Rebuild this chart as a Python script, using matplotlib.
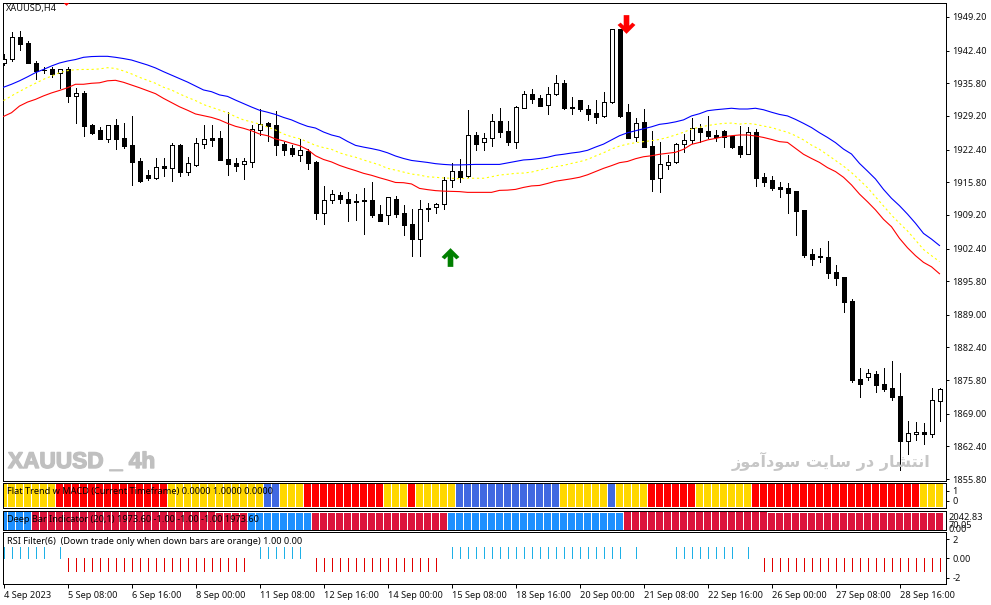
import matplotlib
matplotlib.use('Agg')
import matplotlib.pyplot as plt
import matplotlib.patheffects as pe
from matplotlib.path import Path

W, H = 991, 605
FONT = 'Noto Sans'
FS = 6.6
PX = 0.72  # one pixel in points at dpi 100

time_labels = ['4 Sep 2023', '5 Sep 08:00', '6 Sep 16:00', '8 Sep 00:00', '11 Sep 08:00',
               '12 Sep 16:00', '14 Sep 00:00', '15 Sep 08:00', '18 Sep 16:00', '20 Sep 00:00',
               '21 Sep 08:00', '22 Sep 16:00', '26 Sep 00:00', '27 Sep 08:00', '28 Sep 16:00']
price_ticks = [1949.2, 1942.4, 1935.8, 1929.2, 1922.4, 1915.8, 1909.2, 1902.4,
               1895.8, 1889.0, 1882.4, 1875.8, 1869.0, 1862.4, 1855.8]

opens = [1940.0, 1940.7, 1945.1, 1943.9, 1939.8, 1938.55, 1938.6, 1937.8, 1938.6, 1933.3,
         1933.8, 1927.3, 1926.3, 1924.6, 1927.3, 1924.7, 1923.25, 1920.0, 1917.2, 1916.7,
         1919.1, 1918.7, 1923.3, 1917.9, 1919.3, 1923.6, 1924.7, 1924.7, 1920.4, 1919.7,
         1919.55, 1919.95, 1926.4, 1927.7, 1927.3, 1923.45, 1922.65, 1921.35, 1922.2, 1919.9,
         1909.65, 1912.3, 1913.2, 1912.5, 1911.7, 1912.3, 1912.3, 1909.3, 1909.1, 1912.5,
         1909.5, 1907.3, 1904.4, 1910.5, 1910.7, 1911.3, 1916.2, 1918.0, 1917.1, 1925.3,
         1923.85, 1924.7, 1928.1, 1926.1, 1924.0, 1930.9, 1933.55, 1932.75, 1931.35, 1933.7,
         1935.8, 1931.1, 1932.35, 1930.7, 1929.7, 1929.1, 1932.1, 1946.7, 1929.9, 1924.85,
         1927.9, 1923.1, 1916.6, 1919.35, 1919.8, 1923.45, 1924.25, 1926.7, 1926.1, 1925.35,
         1926.1, 1925.05, 1923.1, 1921.6, 1925.9, 1916.8, 1916.2, 1914.85, 1914.55, 1913.95,
         1910.1, 1901.2, 1900.9, 1900.6, 1897.6, 1896.6, 1891.8, 1876.0, 1876.5, 1876.95,
         1875.0, 1874.1, 1872.5, 1863.45, 1864.95, 1865.4, 1865.0, 1871.6]
closes = [1940.8, 1945.1, 1943.8, 1939.9, 1938.35, 1938.4, 1937.7, 1938.6, 1933.3, 1933.8,
          1927.2, 1925.8, 1924.6, 1927.3, 1924.6, 1923.2, 1919.95, 1916.1, 1916.7, 1918.9,
          1918.7, 1923.25, 1917.9, 1919.6, 1923.7, 1924.5, 1924.4, 1920.35, 1919.55, 1919.0,
          1920.0, 1926.55, 1927.6, 1927.2, 1923.4, 1922.3, 1921.55, 1922.25, 1919.75, 1909.65,
          1912.3, 1913.4, 1912.4, 1911.65, 1912.1, 1912.05, 1909.2, 1908.0, 1912.75, 1909.4,
          1907.2, 1904.4, 1910.3, 1910.3, 1911.3, 1916.2, 1918.0, 1916.9, 1925.3, 1923.6,
          1924.7, 1928.1, 1926.0, 1924.0, 1931.1, 1933.55, 1932.7, 1931.3, 1933.7, 1935.8,
          1930.85, 1930.85, 1930.65, 1929.65, 1929.05, 1932.1, 1946.7, 1929.25, 1924.8, 1927.85,
          1923.0, 1916.4, 1919.4, 1919.8, 1923.45, 1924.25, 1926.7, 1926.0, 1925.2, 1924.95,
          1924.95, 1922.9, 1921.55, 1925.9, 1916.7, 1915.9, 1914.6, 1914.5, 1913.7, 1910.05,
          1901.15, 1900.35, 1900.6, 1897.5, 1896.5, 1891.65, 1875.8, 1875.05, 1877.15, 1874.85,
          1874.0, 1872.35, 1863.45, 1865.2, 1865.4, 1864.95, 1871.7, 1873.9]
highs = [1941.7, 1946.1, 1946.4, 1944.3, 1940.3, 1939.0, 1939.0, 1938.7, 1939.0, 1934.8,
         1934.2, 1927.6, 1926.9, 1927.3, 1928.6, 1927.8, 1929.2, 1920.6, 1918.3, 1920.7,
         1920.7, 1923.7, 1923.5, 1920.9, 1924.7, 1927.4, 1927.4, 1926.15, 1929.9, 1920.7,
         1920.7, 1927.4, 1930.7, 1928.0, 1930.1, 1924.0, 1923.25, 1924.5, 1922.45, 1920.0,
         1915.05, 1914.2, 1913.9, 1913.8, 1913.35, 1914.6, 1915.85, 1911.2, 1912.9, 1913.0,
         1911.2, 1910.3, 1912.2, 1911.5, 1911.65, 1916.8, 1919.6, 1920.4, 1930.4, 1925.9,
         1925.8, 1929.5, 1930.8, 1928.2, 1931.2, 1934.2, 1934.65, 1933.4, 1935.0, 1937.5,
         1936.45, 1932.95, 1932.4, 1931.4, 1932.4, 1934.0, 1946.8, 1946.8, 1931.6, 1928.7,
         1930.5, 1926.15, 1923.85, 1921.3, 1923.7, 1925.55, 1928.7, 1927.6, 1929.2, 1926.35,
         1926.35, 1925.15, 1927.15, 1926.9, 1926.5, 1917.6, 1917.05, 1915.8, 1915.6, 1914.0,
         1910.2, 1902.2, 1902.45, 1903.9, 1899.05, 1896.6, 1892.1, 1878.25, 1878.0, 1877.55,
         1878.25, 1879.65, 1877.15, 1867.5, 1867.3, 1867.1, 1874.1, 1874.1]
lows = [1939.4, 1940.4, 1942.5, 1939.8, 1936.7, 1937.95, 1937.1, 1934.85, 1932.1, 1927.8,
        1925.2, 1925.5, 1924.5, 1924.0, 1922.6, 1922.8, 1915.3, 1915.9, 1916.2, 1916.5,
        1917.05, 1916.1, 1917.05, 1917.3, 1919.1, 1922.7, 1923.2, 1920.3, 1917.3, 1918.05,
        1916.45, 1918.9, 1925.3, 1924.2, 1921.3, 1921.3, 1921.15, 1920.0, 1918.45, 1908.35,
        1907.4, 1911.65, 1911.65, 1907.95, 1908.15, 1905.3, 1908.7, 1907.95, 1907.4, 1908.8,
        1905.2, 1900.9, 1900.9, 1908.0, 1909.65, 1910.4, 1914.9, 1915.9, 1916.9, 1922.3,
        1922.3, 1923.2, 1925.0, 1923.3, 1922.8, 1930.85, 1931.75, 1931.2, 1929.6, 1933.4,
        1930.65, 1929.65, 1930.25, 1928.4, 1927.85, 1929.05, 1931.9, 1929.05, 1924.7, 1924.2,
        1922.85, 1914.1, 1913.9, 1918.55, 1919.6, 1922.0, 1923.7, 1923.85, 1924.8, 1924.2,
        1923.0, 1922.65, 1920.85, 1921.5, 1915.1, 1915.1, 1914.2, 1912.9, 1909.65, 1905.2,
        1900.75, 1899.15, 1899.75, 1896.5, 1895.1, 1889.6, 1875.45, 1872.45, 1875.8, 1873.45,
        1873.65, 1871.75, 1857.6, 1860.85, 1863.65, 1862.85, 1864.3, 1867.5]

ma_blue = [1935.0, 1935.6, 1936.3, 1937.1, 1937.95, 1938.6, 1939.3, 1939.9, 1940.3, 1940.6,
           1941.05, 1941.2, 1941.25, 1941.25, 1941.05, 1940.8, 1940.5, 1940.0, 1939.5, 1938.9,
           1938.15, 1937.45, 1936.75, 1936.05, 1935.25, 1934.45, 1934.1, 1933.45, 1933.15, 1932.4,
           1931.7, 1931.0, 1930.35, 1929.95, 1929.5, 1928.9, 1928.4, 1927.7, 1927.1, 1926.75,
           1925.95, 1925.35, 1924.95, 1924.05, 1923.25, 1922.9, 1922.6, 1922.25, 1921.75, 1921.1,
           1920.6, 1920.2, 1920.0, 1919.8, 1919.55, 1919.4, 1919.3, 1919.3, 1919.35, 1919.4,
           1919.4, 1919.4, 1919.4, 1919.7, 1920.0, 1920.3, 1920.4, 1920.6, 1920.85, 1921.25,
           1921.45, 1921.7, 1921.9, 1922.25, 1922.9, 1923.5, 1924.35, 1925.2, 1925.8, 1926.2,
           1926.6, 1927.0, 1927.5, 1927.7, 1928.0, 1928.4, 1929.2, 1929.65, 1930.25, 1930.45,
           1930.6, 1930.75, 1930.6, 1930.6, 1930.75, 1930.45, 1929.95, 1929.5, 1929.2, 1928.5,
           1927.7, 1926.85, 1925.8, 1924.85, 1923.8, 1922.5, 1921.5, 1919.6, 1918.05, 1916.45,
           1914.35, 1912.55, 1911.05, 1909.35, 1907.5, 1905.45, 1904.3, 1903.0]
ma_yellow = [1932.3, 1933.25, 1934.15, 1935.0, 1935.8, 1936.6, 1937.25, 1937.95, 1938.35, 1938.55,
             1938.6, 1938.6, 1938.7, 1938.95, 1938.8, 1938.3, 1937.7, 1937.0, 1936.4, 1935.8,
             1935.0, 1934.45, 1933.65, 1932.95, 1932.3, 1931.5, 1930.95, 1930.4, 1929.85, 1929.05,
             1928.4, 1928.0, 1927.55, 1926.95, 1926.35, 1925.55, 1925.0, 1924.6, 1923.95, 1923.25,
             1922.8, 1922.45, 1921.75, 1921.25, 1920.85, 1920.3, 1919.8, 1919.3, 1918.6, 1918.25,
             1917.85, 1917.45, 1917.25, 1916.9, 1916.8, 1916.65, 1916.6, 1916.5, 1916.6, 1916.6,
             1916.6, 1916.9, 1917.25, 1917.4, 1917.6, 1917.65, 1917.85, 1918.25, 1918.6, 1918.95,
             1919.2, 1919.6, 1919.95, 1920.4, 1921.1, 1921.75, 1922.5, 1923.1, 1923.5, 1923.8,
             1924.0, 1924.2, 1924.45, 1924.85, 1925.35, 1925.9, 1926.55, 1926.9, 1927.25, 1927.5,
             1927.7, 1927.75, 1927.55, 1927.7, 1927.5, 1927.15, 1926.85, 1926.35, 1925.9, 1925.2,
             1924.35, 1923.3, 1922.45, 1921.35, 1920.2, 1919.05, 1917.75, 1916.25, 1914.7, 1912.85,
             1911.0, 1909.15, 1907.5, 1905.95, 1904.1, 1902.2, 1900.95, 1899.75]
ma_red = [1929.1, 1929.85, 1931.2, 1932.0, 1932.55, 1933.25, 1933.85, 1934.35, 1934.9, 1935.6,
          1935.6, 1935.8, 1935.9, 1936.3, 1936.4, 1936.0, 1935.45, 1934.9, 1934.3, 1933.7,
          1932.75, 1931.9, 1931.05, 1930.35, 1929.6, 1929.25, 1928.9, 1928.4, 1927.7, 1927.1,
          1926.7, 1926.2, 1925.55, 1925.2, 1924.55, 1924.15, 1923.65, 1923.2, 1922.4, 1921.15,
          1920.4, 1919.9, 1919.2, 1918.65, 1918.15, 1917.6, 1917.2, 1916.7, 1916.25, 1915.75,
          1915.7, 1915.45, 1914.55, 1914.3, 1914.1, 1914.0, 1913.95, 1913.9, 1913.75, 1913.75,
          1913.75, 1913.75, 1914.15, 1914.2, 1914.35, 1914.75, 1915.05, 1915.15, 1915.55, 1916.0,
          1916.25, 1916.5, 1916.8, 1917.3, 1917.95, 1918.6, 1919.15, 1919.75, 1920.0, 1920.55,
          1920.95, 1921.15, 1921.45, 1921.65, 1921.85, 1922.45, 1923.45, 1923.85, 1924.35, 1924.65,
          1925.0, 1925.2, 1925.35, 1925.35, 1925.15, 1924.85, 1924.45, 1924.0, 1923.85, 1922.65,
          1921.45, 1920.6, 1919.8, 1918.75, 1917.95, 1916.8, 1915.25, 1913.4, 1911.85, 1910.2,
          1908.3, 1906.8, 1904.45, 1902.55, 1900.95, 1899.6, 1898.7, 1897.3]

# arrows: bar index and price of the arrow centre
buy_bars = [55]
buy_prices = [1900.7]
sell_bars = [7, 77]
sell_prices = [1953.45, 1947.8]

# (number of bars, colour)
flat_runs = [(7, '#FFD700'), (14, '#FF0000'), (12, '#FFD700'), (2, '#4169E1'), (3, '#FFD700'),
             (10, '#FF0000'), (3, '#FFD700'), (1, '#FF0000'), (5, '#FFD700'), (13, '#4169E1'),
             (6, '#FFD700'), (1, '#4169E1'), (4, '#FFD700'), (6, '#FF0000'), (7, '#FFD700'),
             (21, '#FF0000'), (3, '#FFD700')]
deep_runs = [(4, '#1E90FF'), (27, '#DC143C'), (8, '#1E90FF'), (17, '#DC143C'), (22, '#1E90FF'),
             (40, '#DC143C')]
# (number of bars, value) 1 = up tick, -1 = down tick, 0 = nothing
rsi_runs = [(6, 1), (1, 0), (1, 1), (23, -1), (1, 0), (6, 1), (1, 0), (16, -1), (1, 0), (22, 1),
            (1, 0), (1, 1), (4, 0), (8, 1), (1, 0), (1, 1), (1, 0), (23, -1)]


def expand(runs):
    out = []
    for n, v in runs:
        out += [v] * n
    return out


def panel(top, bottom):
    left, right = 2.5, 945.5
    ax = fig.add_axes([left / W, 1 - bottom / H, (right - left) / W, (bottom - top) / H])
    ax.set_xlim((left - 3.5) / 8, (right - 3.5) / 8)
    ax.set_xticks([])
    for s in ax.spines.values():
        s.set_linewidth(PX)
        s.set_color('black')
    ax.yaxis.tick_right()
    ax.tick_params(axis='y', length=2.4, width=PX, pad=2.5, labelsize=FS, labelcolor='#101010')
    return ax


plt.rcParams['font.family'] = [FONT, 'DejaVu Sans']
fig = plt.figure(figsize=(W / 100, H / 100), dpi=100, facecolor='white')

bars = list(range(len(opens)))

# main chart
ax = panel(2.5, 481)
ax.set_ylim(1855.4, 1952.13)
ax.set_yticks(price_ticks)
ax.set_yticklabels(['%.2f' % p for p in price_ticks])

ax.vlines(bars, lows, highs, color='black', lw=PX, zorder=2, antialiased=False)
tops = [max(o, c) for o, c in zip(opens, closes)]
bots = [min(o, c) for o, c in zip(opens, closes)]
fills = ['white' if c > o else 'black' for o, c in zip(opens, closes)]
ax.bar(bars, [t - b for t, b in zip(tops, bots)], bottom=bots, width=0.5, color=fills,
       edgecolor='black', linewidth=PX, zorder=3, antialiased=False)

ax.plot(bars, ma_blue, color='#0000FF', lw=0.8, zorder=4)
ax.plot(bars, ma_red, color='#FF0000', lw=0.8, zorder=4)
ax.plot(bars, ma_yellow, color='#FFFF00', lw=0.8, ls=(0, (2, 2.5)), zorder=4)

up_arrow = Path([(0, 1), (0.95, 0.05), (0.62, -0.2), (0.3, 0.12), (0.3, -1), (-0.3, -1),
                 (-0.3, 0.12), (-0.62, -0.2), (-0.95, 0.05), (0, 1)], closed=True)
down_arrow = Path([(x, -y) for x, y in up_arrow.vertices], closed=True)
ax.plot([b + 0.85 for b in buy_bars], buy_prices, ls='', marker=up_arrow, ms=13.5,
        color='#007F00', mew=0, zorder=5)
ax.plot([b + 0.85 for b in sell_bars], sell_prices, ls='', marker=down_arrow, ms=13.5,
        color='#FF0000', mew=0, zorder=5)

ax.text(6 / W, 1 - 9 / H, 'XAUUSD,H4', transform=fig.transFigure, fontsize=FS, va='center',
        color='#101010')
ax.text(8 / W, 1 - 461.5 / H, 'XAUUSD _ 4h', transform=fig.transFigure, fontsize=16.3, va='center',
        fontweight='bold', color='#C0C0C0', family=['Liberation Sans', 'DejaVu Sans'],
        path_effects=[pe.withStroke(linewidth=1.0, foreground='#C0C0C0')])
# "انتشار در سایت سودآموز", already shaped and in visual order: matplotlib does no bidi
fa_visual = ('\uFEAF\uFEEE\uFEE3\uFE81\uFEA9\uFEEE\uFEB3 \uFE96\uFEF3\uFE8E\uFEB3 '
             '\uFEAD\uFEA9 \uFEAD\uFE8E\uFEB8\uFE98\uFEE7\uFE8D')
ax.text(930 / W, 1 - 461 / H, fa_visual, transform=fig.transFigure, fontsize=11.6, va='center',
        ha='right', fontweight='bold', color='#C6C6C6', family='DejaVu Sans')

# flat trend panel
ax1 = panel(483.3, 508)
ax1.set_ylim(-0.7, 1.77)
ax1.bar(bars, [2.3] * len(bars), bottom=-0.6, width=0.875, color=expand(flat_runs), antialiased=False)
ax1.set_yticks([0, 1])
ax1.set_yticklabels(['0', '1'])
ax1.text(7 / W, 1 - 491.5 / H, 'Flat Trend w MACD (Current Timeframe) 0.0000 1.0000 0.0000',
         transform=fig.transFigure, fontsize=FS, va='center', color='black')

# deep bar panel
ax2 = panel(510.7, 530)
ax2.set_ylim(0, 2400)
deep_tops = [2300] * 27 + [2170] * 51 + [2300] * 18 + [2170] * 22
ax2.bar(bars, deep_tops, width=0.875, color=expand(deep_runs), antialiased=False)
ax2.set_yticks([1620, 680, 160])
ax2.set_yticklabels(['2042.83', '70.05', '0.00'])
ax2.tick_params(axis='y', length=0)
ax2.text(7 / W, 1 - 520 / H, 'Deep Bar Indicator (20,1) 1973.60 -1.00 -1.00 -1.00 1973.60',
         transform=fig.transFigure, fontsize=FS, va='center', color='black')

# rsi filter panel
ax3 = panel(532.3, 584.3)
ax3.set_ylim(-2.68, 2.7)
rsi = expand(rsi_runs)
up = [b for b, v in zip(bars, rsi) if v > 0]
down = [b for b, v in zip(bars, rsi) if v < 0]
ax3.vlines(up, 0, 1.2, color='#1EB0E6', lw=PX, antialiased=False)
ax3.vlines(down, -1.35, 0, color='#E00000', lw=PX, antialiased=False)
ax3.set_yticks([2, 0, -2])
ax3.set_yticklabels(['2', '0.00', '-2'])
ax3.text(7 / W, 1 - 541 / H, 'RSI Filter(6)  (Down trade only when down bars are orange) 1.00 0.00',
         transform=fig.transFigure, fontsize=FS, va='center', color='black')
ax3.set_xticks(bars[::8])
ax3.set_xticklabels(time_labels, ha='left')
ax3.tick_params(axis='x', length=2.6, width=PX, pad=2.5, labelsize=FS, labelcolor='#101010')

fig.savefig('out.png', dpi=100, facecolor='white')
